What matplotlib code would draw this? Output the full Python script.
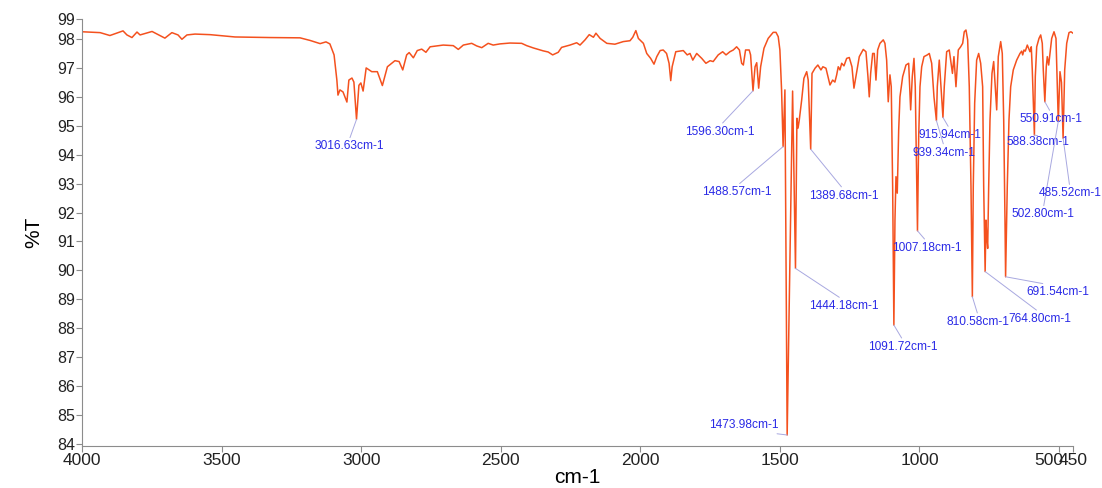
import numpy as np
import matplotlib
matplotlib.use('Agg')
import matplotlib.pyplot as plt
import matplotlib.transforms as mtransforms

plt.rcParams['font.family'] = ['Liberation Sans', 'DejaVu Sans']

# IR spectrum: wavenumber (cm-1) and transmittance (%T)
wavenumber = [
    4000, 3935, 3900, 3853, 3839, 3821, 3803, 3792, 3749, 3731, 3703, 3678, 3656, 3642, 3624, 3595,
    3541, 3452, 3327, 3219, 3183, 3147, 3126, 3112, 3097, 3087, 3083, 3076, 3065, 3051, 3044, 3033,
    3026, 3016.63, 3008, 3001, 2993, 2982, 2962, 2942, 2924, 2906, 2879, 2864, 2851, 2837, 2828, 2813,
    2799, 2783, 2768, 2753, 2706, 2670, 2652, 2634, 2604, 2586, 2568, 2545, 2527, 2503, 2467, 2425,
    2407, 2383, 2348, 2330, 2314, 2294, 2282, 2252, 2228, 2216, 2198, 2183, 2168, 2159, 2144, 2120,
    2091, 2061, 2037, 2027, 2016, 2007, 1989, 1977, 1963, 1951, 1941, 1929, 1918, 1906, 1897, 1891,
    1886, 1873, 1846, 1832, 1822, 1812, 1798, 1780, 1765, 1750, 1739, 1721, 1705, 1693, 1679, 1667,
    1655, 1645, 1637, 1631, 1623, 1610, 1605, 1596.30, 1589, 1583, 1576, 1569, 1557, 1542, 1524, 1514,
    1506, 1500, 1494, 1488.57, 1482, 1473.98, 1454.5, 1444.18, 1439, 1435, 1430.6, 1422, 1414, 1404,
    1398.6, 1389.68, 1385, 1374, 1364, 1353, 1346, 1335, 1328, 1320.6, 1311, 1303, 1296.6, 1291,
    1284.8, 1278.7, 1270.5, 1260.8, 1251.5, 1241.9, 1234.7, 1227.6, 1215.6, 1201.4, 1191.7, 1184.6,
    1179.9, 1174.9, 1167.7, 1162, 1155.9, 1149.8, 1141.6, 1129.7, 1123.7, 1117.6, 1111.9, 1105.8,
    1101.1, 1096.1, 1091.72, 1087.8, 1084.2, 1079.6, 1074.5, 1069.9, 1060.2, 1048.4, 1038.7, 1031.6,
    1025.8, 1019.7, 1015.1, 1007.18, 1002.8, 998.2, 992.1, 983.9, 972, 964.9, 956.3, 948.1,
    939.34, 936.2, 929.1, 923, 915.94, 911.2, 902.6, 893.3, 881.9, 876.5, 869.3, 861,
    852.5, 845.3, 839.6, 833.5, 827.4, 821.6, 815.5, 810.58, 807.3, 802.3, 795.2, 788,
    780.8, 773.7, 770, 764.80, 761.8, 759.3, 755.7, 752.1, 747.4, 740.3, 734.2, 728.4,
    723.4, 717.7, 709.1, 703.4, 698.3, 693.7, 691.54, 685.5, 679.4, 673.3, 664, 651.8,
    640, 633.9, 630.3, 625.6, 620.9, 613.8, 604.1, 599.5, 595.9, 588.38, 585.1, 580.1,
    571.9, 565.8, 560.1, 556.5, 550.91, 545.8, 542.2, 537.2, 532.5, 526.4, 518.1, 511,
    502.80, 496.7, 491.3, 485.52, 479.8, 472.6, 464.4, 457.3, 450,
]
transmittance = [
    98.25, 98.22, 98.12, 98.28, 98.14, 98.05, 98.24, 98.14, 98.26, 98.17, 98.03, 98.22, 98.14, 97.99, 98.14, 98.17,
    98.15, 98.07, 98.05, 98.04, 97.95, 97.84, 97.90, 97.83, 97.45, 96.58, 96.06, 96.24, 96.17, 95.82, 96.58, 96.65,
    96.51, 95.22, 96.40, 96.48, 96.20, 97.00, 96.87, 96.87, 96.39, 97.04, 97.25, 97.22, 96.93, 97.45, 97.53, 97.35,
    97.60, 97.65, 97.54, 97.73, 97.79, 97.77, 97.64, 97.79, 97.85, 97.76, 97.70, 97.85, 97.79, 97.83, 97.86, 97.85,
    97.77, 97.69, 97.59, 97.55, 97.45, 97.54, 97.71, 97.79, 97.87, 97.79, 97.97, 98.15, 98.06, 98.20, 98.02, 97.85,
    97.82, 97.91, 97.94, 98.06, 98.29, 98.02, 97.85, 97.50, 97.33, 97.13, 97.39, 97.60, 97.62, 97.50, 97.16, 96.56,
    97.04, 97.56, 97.60, 97.45, 97.50, 97.27, 97.50, 97.33, 97.16, 97.25, 97.22, 97.45, 97.56, 97.45, 97.56, 97.62,
    97.73, 97.62, 97.16, 97.10, 97.62, 97.62, 97.45, 96.21, 97.04, 97.18, 96.30, 97.04, 97.68, 98.02, 98.23, 98.23,
    98.08, 97.62, 96.24, 94.28, 96.24, 84.31, 96.20, 90.07, 95.26, 94.92, 95.20, 95.89, 96.64, 96.87,
    96.58, 94.19, 96.81, 96.99, 97.10, 96.93, 97.04, 96.99, 96.70, 96.41, 96.58, 96.51, 96.76, 97.04,
    96.93, 97.16, 97.07, 97.33, 97.36, 97.04, 96.30, 96.70, 97.39, 97.64, 97.56, 96.70,
    96.00, 96.81, 97.50, 97.50, 96.58, 97.62, 97.85, 97.97, 97.85, 97.27, 95.83, 96.76,
    96.35, 92.90, 88.11, 91.74, 93.24, 92.67, 94.85, 96.00, 96.70, 97.10, 97.16, 95.55,
    96.70, 97.33, 96.35, 91.37, 94.62, 96.35, 97.04, 97.39, 97.45, 97.50, 97.16, 96.00,
    95.18, 96.35, 97.27, 96.35, 95.29, 96.35, 97.56, 97.62, 96.81, 97.39, 96.35, 97.62,
    97.73, 97.85, 98.25, 98.31, 97.97, 96.35, 92.90, 89.09, 92.90, 95.78, 97.27, 97.50,
    97.16, 96.35, 92.90, 89.96, 91.74, 91.17, 90.76, 92.90, 95.20, 96.81, 97.22, 96.35,
    95.55, 97.39, 97.91, 97.50, 95.20, 91.74, 89.78, 92.90, 95.20, 96.35, 96.93, 97.27,
    97.50, 97.58, 97.45, 97.62, 97.58, 97.79, 97.56, 97.73, 96.93, 94.68, 96.70, 97.73,
    98.02, 98.14, 97.85, 96.93, 95.83, 97.04, 97.39, 97.10, 97.50, 98.02, 98.25, 98.02,
    95.15, 96.87, 96.50, 94.57, 96.93, 97.85, 98.22, 98.25, 98.20,
]

# labelled peaks (cm-1)
peaks = [3016.63, 1596.30, 1488.57, 1473.98, 1444.18, 1389.68, 1091.72, 1007.18,
         939.34, 915.94, 810.58, 764.80, 691.54, 588.38, 550.91, 502.80, 485.52]
# label offsets from the peak tip, in pixels
label_dx = [-7.5, -33, -46.7, -43, 48, 33, 9.4, 9.4, 7.7, 6.8, 5.8, 55, 52.3, 3.2, 6.3, -15, 6.7]
label_dy = [-27, -41, -45.7, 10, -37.7, -46.4, -21.7, -17, -32, -17.7, -25, -47.3, -15.6, -6.7, -17.3, -93, -55]

xticks = [4000, 3500, 3000, 2500, 2000, 1500, 1000, 500, 450]
yticks = [84, 85, 86, 87, 88, 89, 90, 91, 92, 93, 94, 95, 96, 97, 98]
y_bottom, y_top = 83.93, 98.69

fig = plt.figure(figsize=(11.02, 4.88), dpi=100)
ax = fig.add_axes([0.0744, 0.0861, 0.8993, 0.8749])

ax.plot(wavenumber, transmittance, color='#f4511e', lw=1.1)

spec = dict(zip(wavenumber, transmittance))
for wn, dx, dy in zip(peaks, label_dx, label_dy):
    rel = (0.5, 0.1) if dy > 0 else (0.5, 1.0)
    ax.annotate('%.2fcm-1' % wn, xy=(wn, spec[wn]), xytext=(dx, dy),
                textcoords='offset pixels', ha='center', va='center',
                fontsize=8.6, color='#2a2ae6',
                arrowprops=dict(arrowstyle='-', color='#a8a8e0', lw=0.7,
                                shrinkA=0, shrinkB=0, relpos=rel))

ax.set_xlim(4000, 450)
ax.set_ylim(y_bottom, y_top)
ax.set_xticks(xticks)
# 500 and 450 sit close together: the 500 label is drawn by hand, nudged left
ax.set_xticklabels(['' if t == 500 else str(t) for t in xticks], fontsize=12.5)
ax.set_yticks(yticks + [y_top])
ax.set_yticklabels([str(t) for t in yticks] + ['99'], fontsize=11.5)

shift = mtransforms.ScaledTranslation(-10 / 100, -7.2 / 100, fig.dpi_scale_trans)
ax.text(500, 0, '500', transform=ax.get_xaxis_transform() + shift,
        ha='center', va='top', fontsize=12.5, color='#222222')

for s in ['top', 'right']:
    ax.spines[s].set_visible(False)
for s in ['left', 'bottom']:
    ax.spines[s].set_color('#8c8c8c')
ax.tick_params(colors='#8c8c8c', labelcolor='#222222', length=4, width=0.8, pad=1)

ax.set_xlabel('cm-1', fontsize=15, labelpad=0)
ax.set_ylabel('%T', fontsize=15, labelpad=10)

fig.savefig('out.png', dpi=100)
